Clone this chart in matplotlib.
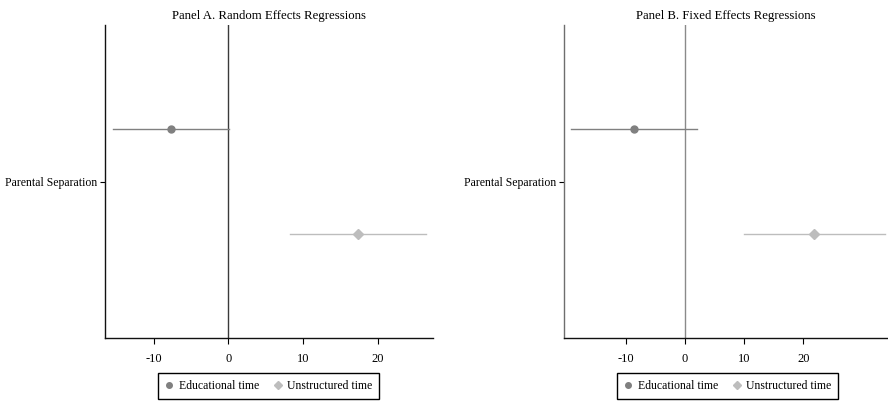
import matplotlib
matplotlib.use("Agg")
import matplotlib.pyplot as plt
from matplotlib.lines import Line2D

plt.rcParams['font.family'] = ['Liberation Serif', 'DejaVu Serif']

panels = ["Panel A. Random Effects Regressions", "Panel B. Fixed Effects Regressions"]
series = ["Educational time", "Unstructured time"]
category = "Parental Separation"

# coefficient, lower CI, upper CI per panel
edu_coef = [-7.7, -8.6]
edu_lo = [-15.4, -19.2]
edu_hi = [0.1, 2.0]
uns_coef = [17.4, 21.8]
uns_lo = [8.3, 10.0]
uns_hi = [26.5, 33.8]

xticks = [-10, 0, 10, 20]
xlims = [(-16.47, 27.4), (-20.4, 34.3)]

edu_color = "#808080"
uns_color = "#bdbdbd"
zero_colors = ["#3a3a3a", "#8a8a8a"]
spine_colors = ["#111111", "#6e6e6e"]

fig = plt.figure(figsize=(8.88, 4.01), dpi=100)
bottom, top = 0.1564, 0.9377
axes = [fig.add_axes([0.1186, bottom, 0.4876 - 0.1186, top - bottom]),
        fig.add_axes([0.6351, bottom, 1.0 - 0.6351, top - bottom])]

offset = 0.168
for i, ax in enumerate(axes):
    ax.axvline(0, color=zero_colors[i], lw=1.0, zorder=1)
    ax.plot([edu_lo[i], edu_hi[i]], [1 - offset, 1 - offset], color=edu_color, lw=1.0, zorder=2)
    ax.plot([edu_coef[i]], [1 - offset], marker='o', color=edu_color, ms=5, zorder=3, ls='none')
    ax.plot([uns_lo[i], uns_hi[i]], [1 + offset, 1 + offset], color=uns_color, lw=1.0, zorder=2)
    ax.plot([uns_coef[i]], [1 + offset], marker='D', color=uns_color, ms=5, zorder=3, ls='none')
    ax.set_xlim(*xlims[i])
    ax.set_ylim(1.5, 0.5)
    ax.set_yticks([1])
    ax.set_yticklabels([category], fontsize=8.5)
    ax.set_xticks(xticks)
    ax.set_xticklabels([str(t) for t in xticks], fontsize=9)
    ax.tick_params(axis='x', length=4.5, width=0.8, pad=6)
    ax.tick_params(axis='y', length=3.5, width=0.8, pad=2)
    for s in ['top', 'right']:
        ax.spines[s].set_visible(False)
    for s in ['left', 'bottom']:
        ax.spines[s].set_color(spine_colors[i] if s == 'left' else "#111111")
        ax.spines[s].set_linewidth(1.0)
    ax.set_title(panels[i], fontsize=9.2, pad=4)

    handles = [Line2D([], [], marker='o', color=edu_color, ls='none', ms=4),
               Line2D([], [], marker='D', color=uns_color, ls='none', ms=4)]
    cx = [0.3029, 0.8198][i]
    fig.legend(handles, series, loc='center', bbox_to_anchor=(cx, 0.0374), ncol=2,
               fontsize=8.5, frameon=True, fancybox=False, edgecolor='black',
               handlelength=0.6, handletextpad=0.5, columnspacing=1.3,
               borderpad=0.6, framealpha=1)

fig.savefig("out.png", dpi=100)
